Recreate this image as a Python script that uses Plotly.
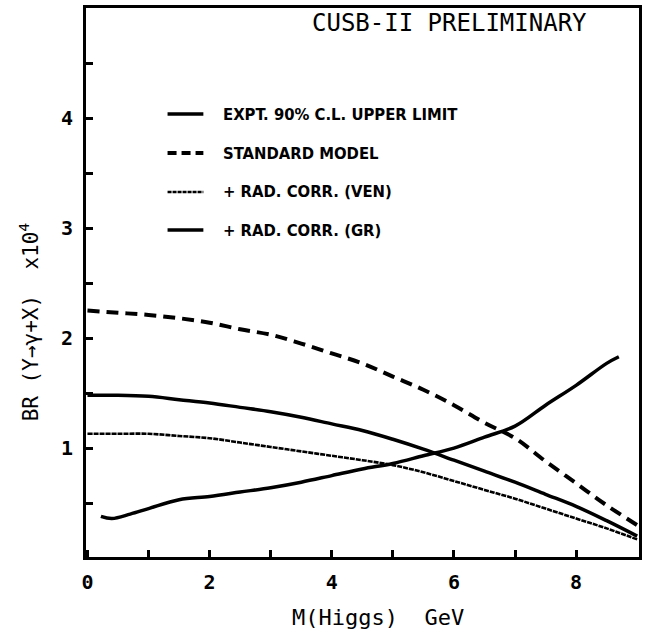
import plotly.graph_objects as go

# ---- data ----
mass_grid = [0, 0.5, 1.0, 1.5, 2.0, 2.5, 3.0, 3.5, 4.0, 4.5, 5.0, 5.5, 6.0, 6.5, 7.0, 7.5, 8.0, 8.5, 9.0]
standard_model = [2.25, 2.23, 2.21, 2.18, 2.14, 2.08, 2.03, 1.95, 1.86, 1.77, 1.65, 1.53, 1.39, 1.23, 1.09, 0.88, 0.68, 0.48, 0.30]
rad_corr_gr = [1.48, 1.48, 1.47, 1.44, 1.41, 1.37, 1.33, 1.28, 1.22, 1.16, 1.08, 0.99, 0.89, 0.79, 0.69, 0.58, 0.47, 0.34, 0.20]
rad_corr_ven = [1.13, 1.13, 1.13, 1.11, 1.09, 1.05, 1.01, 0.97, 0.93, 0.89, 0.845, 0.78, 0.70, 0.62, 0.54, 0.45, 0.36, 0.27, 0.17]

mass_expt = [0.22, 0.4, 0.7, 1.0, 1.5, 2.0, 2.5, 3.0, 3.5, 4.0, 4.5, 5.0, 5.5, 6.0, 6.5, 7.0, 7.5, 8.0, 8.5, 8.7]
expt_limit = [0.38, 0.36, 0.40, 0.45, 0.53, 0.56, 0.60, 0.64, 0.69, 0.75, 0.81, 0.86, 0.93, 1.00, 1.10, 1.20, 1.39, 1.57, 1.77, 1.83]

x_tick_vals = [0, 2, 4, 6, 8]
y_tick_vals = [1, 2, 3, 4]

legend_labels = ["EXPT. 90% C.L. UPPER LIMIT", "STANDARD MODEL",
                 "+ RAD. CORR. (VEN)", "+ RAD. CORR. (GR)"]

# ---- layout geometry ----
W, H = 645, 632
L, R, T, B = 86, 3, 8, 75
PW, PH = W - L - R, H - T - B


def px(xp):
    return (xp - L) / PW


def py(yp):
    return (H - B - yp) / PH


fig = go.Figure()

fig.add_trace(go.Scatter(x=mass_grid, y=standard_model, mode="lines",
                         line=dict(color="black", width=4, dash="12px,7px", shape="spline"),
                         showlegend=False))
fig.add_trace(go.Scatter(x=mass_grid, y=rad_corr_gr, mode="lines",
                         line=dict(color="black", width=3.5, shape="spline"),
                         showlegend=False))
fig.add_trace(go.Scatter(x=mass_grid, y=rad_corr_ven, mode="lines",
                         line=dict(color="black", width=2.6, dash="5px,1px", shape="spline"),
                         showlegend=False))
fig.add_trace(go.Scatter(x=mass_expt, y=expt_limit, mode="lines",
                         line=dict(color="black", width=3.5, shape="spline"),
                         showlegend=False))

# ---- hand-made legend (as in the original figure) ----
legend_rows_y = [114, 153, 192, 230]
legend_styles = [dict(width=3.5), dict(width=4, dash="9px,5px"),
                 dict(width=2.4, dash="4px,1px"), dict(width=3.5)]
shapes = []
annotations = []
for label, yrow, st in zip(legend_labels, legend_rows_y, legend_styles):
    shapes.append(dict(type="line", xref="paper", yref="paper",
                       x0=px(168), x1=px(204), y0=py(yrow), y1=py(yrow),
                       line=dict(color="black", **st)))
    annotations.append(dict(xref="paper", yref="paper", x=px(222), y=py(yrow),
                            xanchor="left", yanchor="middle", showarrow=False,
                            text="<b>" + label + "</b>",
                            font=dict(family="DejaVu Sans Condensed", size=16.5, color="black")))

annotations.append(dict(xref="paper", yref="paper", x=px(451), y=py(23),
                        xanchor="center", yanchor="middle", showarrow=False,
                        text="CUSB-II PRELIMINARY",
                        font=dict(family="DejaVu Sans Mono", size=24, color="black")))
annotations.append(dict(xref="paper", yref="paper", x=px(380), y=py(617),
                        xanchor="center", yanchor="middle", showarrow=False,
                        text="M(Higgs)  GeV",
                        font=dict(family="DejaVu Sans Mono", size=22, color="black")))
annotations.append(dict(xref="paper", yref="paper", x=px(29), y=py(322),
                        xanchor="center", yanchor="middle", showarrow=False, textangle=-90,
                        text="BR (Υ→γ+X)  x10<sup>4</sup>",
                        font=dict(family="DejaVu Sans Mono", size=21, color="black")))

fig.update_layout(
    width=W, height=H,
    margin=dict(l=L, r=R, t=T, b=B),
    paper_bgcolor="white", plot_bgcolor="white",
    shapes=shapes, annotations=annotations,
    showlegend=False,
)

fig.update_xaxes(range=[-0.024, 9.03], tickmode="array", tickvals=x_tick_vals,
                 ticks="inside", ticklen=7, tickwidth=2.5, tickcolor="black",
                 showline=True, linewidth=3, linecolor="black", mirror=True,
                 showgrid=False, zeroline=False, ticklabelstandoff=5,
                 minor=dict(tickmode="array", tickvals=[1, 3, 5, 7], ticks="inside",
                            ticklen=7, tickwidth=2.5, tickcolor="black", showgrid=False),
                 tickfont=dict(family="DejaVu Sans Mono", size=20, color="black", weight="bold"))
fig.update_yaxes(range=[0.01, 5.0], tickmode="array", tickvals=y_tick_vals,
                 ticks="inside", ticklen=7, tickwidth=2.5, tickcolor="black",
                 showline=True, linewidth=3, linecolor="black", mirror=True,
                 showgrid=False, zeroline=False, ticklabelstandoff=6,
                 minor=dict(tickmode="array", tickvals=[0.5, 1.5, 2.5, 3.5, 4.5], ticks="inside",
                            ticklen=7, tickwidth=2.5, tickcolor="black", showgrid=False),
                 tickfont=dict(family="DejaVu Sans Mono", size=20, color="black", weight="bold"))

fig.write_html("out.html", config={"displayModeBar": False},
               post_script="document.body.style.margin='0';document.body.style.overflow='hidden';")
